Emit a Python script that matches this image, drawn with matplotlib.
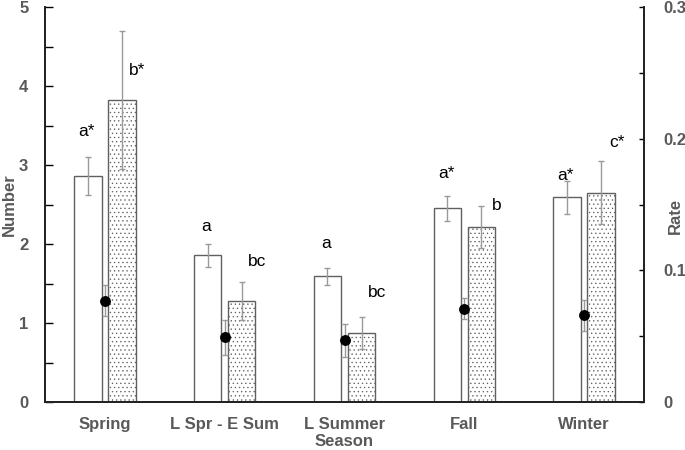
import matplotlib
matplotlib.use("Agg")
import matplotlib.pyplot as plt
import numpy as np

plt.rcParams['font.family'] = ['Liberation Sans', 'DejaVu Sans']
plt.rcParams['hatch.linewidth'] = 0.45
plt.rcParams['hatch.color'] = '#808080'

categories = ["Spring", "L Spr - E Sum", "L Summer", "Fall", "Winter"]
number_open = [2.86, 1.86, 1.59, 2.45, 2.59]
number_open_err = [0.24, 0.145, 0.11, 0.155, 0.21]
number_dotted = [3.82, 1.28, 0.87, 2.21, 2.65]
number_dotted_err = [0.875, 0.24, 0.20, 0.265, 0.40]
rate = [0.077, 0.049, 0.047, 0.071, 0.066]
rate_err = [0.0117, 0.0133, 0.0126, 0.0078, 0.0117]
open_letters = ["a*", "a", "a", "a*", "a*"]
dotted_letters = ["b*", "bc", "bc", "b", "c*"]
open_letter_y = [3.42, 2.22, 2.00, 2.89, 2.87]
dotted_letter_y = [4.20, 1.78, 1.38, 2.49, 3.29]

grey = '#595959'
fig = plt.figure(figsize=(6.85, 4.5), dpi=100)
ax = fig.add_axes([45/685, 48/450, 599/685, 395/450])
x = np.arange(len(categories))
w = 0.23
off = 0.142

ax.bar(x - off, number_open, w, color='white', edgecolor='#606060', linewidth=1.0, zorder=2)
ax.bar(x + off, number_dotted, w, color='white', edgecolor='#606060', linewidth=1.0,
       hatch='....', zorder=2)
ax.errorbar(x - off, number_open, yerr=number_open_err, fmt='none', ecolor='#9a9a9a',
            elinewidth=1.0, capsize=2.5, capthick=1.0, zorder=3)
ax.errorbar(x + off, number_dotted, yerr=number_dotted_err, fmt='none', ecolor='#9a9a9a',
            elinewidth=1.0, capsize=2.5, capthick=1.0, zorder=3)

for i in range(len(categories)):
    ax.text(x[i] - off - 0.01, open_letter_y[i], open_letters[i], ha='center', va='center',
            fontsize=12.5, color='black', zorder=4)
    ax.text(x[i] + off + 0.13, dotted_letter_y[i], dotted_letters[i], ha='center', va='center',
            fontsize=12.5, color='black', zorder=4)

ax.set_xlim(-0.5, 4.5)
ax.set_ylim(0, 5)
ax.set_yticks([0, 1, 2, 3, 4, 5])
ax.set_yticks(np.arange(0.5, 5, 1.0), minor=True)
ax.set_xticks(x)
ax.set_xticklabels(categories)
ax.tick_params(axis='x', length=0, pad=11, labelsize=12, labelcolor=grey)
ax.tick_params(axis='y', which='both', direction='in', length=5.5, width=1.0,
               labelsize=12, labelcolor=grey, pad=12)
for lab in ax.get_xticklabels() + ax.get_yticklabels():
    lab.set_fontweight('bold')
ax.set_xlabel("Season", fontsize=12, fontweight='bold', color=grey, labelpad=1)
ax.set_ylabel("Number", fontsize=12, fontweight='bold', color=grey, va='center')
ax.yaxis.set_label_coords(-36/599, 0.5)
ax.spines['top'].set_visible(False)
for s in ['left', 'bottom', 'right']:
    ax.spines[s].set_linewidth(1.3)
    ax.spines[s].set_color('#222222')

ax2 = ax.twinx()
ax2.set_ylim(0, 0.3)
ax2.errorbar(x, rate, yerr=rate_err, fmt='o', color='black', markersize=6.8,
             ecolor='#9a9a9a', elinewidth=1.0, capsize=2.5, capthick=1.0, zorder=5)
ax2.set_yticks([0, 0.1, 0.2, 0.3])
ax2.set_yticklabels(["0", "0.1", "0.2", "0.3"])
ax2.set_yticks([0.05, 0.15, 0.25], minor=True)
ax2.tick_params(axis='y', which='both', direction='in', length=3.5, width=1.0,
                labelsize=12, labelcolor=grey, pad=14)
for lab in ax2.get_yticklabels():
    lab.set_fontweight('bold')
ax2.set_ylabel("Rate", fontsize=12, fontweight='bold', color=grey, rotation=90, va='center')
ax2.yaxis.set_label_coords(1 + 31/599, 0.47)
ax2.spines['top'].set_visible(False)
for s in ['left', 'bottom', 'right']:
    ax2.spines[s].set_linewidth(1.3)
    ax2.spines[s].set_color('#222222')

fig.savefig("out.png", dpi=100)
